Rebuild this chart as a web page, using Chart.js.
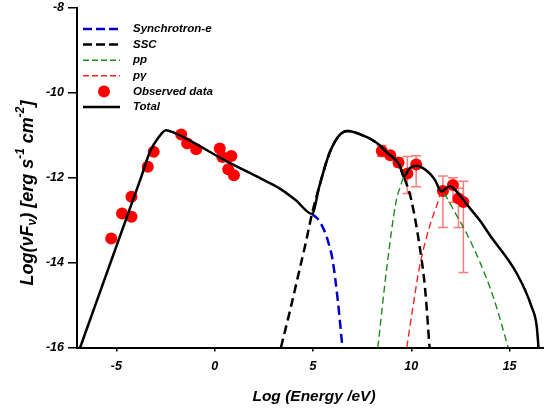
<!DOCTYPE html>
<html>
<head>
<meta charset="utf-8">
<script src="https://cdn.jsdelivr.net/npm/chart.js@4"></script>
<style>body{margin:0;background:#fff}</style>
</head>
<body>
<canvas id="sed" width="544" height="409"></canvas>
<script>
// observed SED points (log E in eV, log nuFnu)
var obsX = [-5.26,-4.71,-4.23,-4.23,-3.40,-3.10,-1.70,-1.40,-0.94,0.26,0.39,0.85,0.69,0.98,8.50,8.93,9.35,9.80,10.25,11.61,12.12,12.40,12.65];
var obsY = [-13.43,-12.84,-12.92,-12.45,-11.74,-11.39,-10.98,-11.19,-11.33,-11.31,-11.51,-11.49,-11.80,-11.94,-11.37,-11.47,-11.64,-11.90,-11.69,-12.31,-12.17,-12.49,-12.57];
var errLo = [null,null,null,null,null,null,null,null,null,null,null,null,null,null,-11.50,null,-11.74,-12.37,-12.21,-13.17,-12.58,-13.17,-14.23];
var errHi = [null,null,null,null,null,null,null,null,null,null,null,null,null,null,-11.24,null,-11.54,-11.50,-11.48,-11.96,-12.00,-12.25,-12.08];

// model curves
var totalX = [-6.84,-4.46,-3.74,-3.29,-2.84,-2.47,-2.16,0.64,2.40,3.30,4.13,4.95,5.32,5.83,6.34,6.77,7.53,7.87,8.38,8.72,9.40,9.62,9.91,10.25,10.85,11.20,11.53,11.95,12.46,12.81,13.49,13.99,15.36,16.12,16.38,16.47];
var totalY = [-16.00,-12.92,-11.99,-11.39,-11.04,-10.88,-10.92,-11.62,-12.03,-12.25,-12.53,-12.85,-12.21,-11.43,-11.00,-10.90,-11.00,-11.07,-11.23,-11.39,-11.70,-11.97,-11.78,-11.72,-11.86,-12.05,-12.32,-12.20,-12.41,-12.62,-13.01,-13.35,-14.25,-15.04,-15.50,-16.00];
var syncX = [4.95,5.30,5.58,5.80,6.00,6.26,6.50];
var syncY = [-12.85,-13.00,-13.25,-13.55,-13.94,-14.88,-16.00];
var sscX = [3.37,3.85,4.30,4.65,4.95,5.32,5.83,6.34,6.77,7.53,7.87,8.38,8.72,9.40,9.62,10.00,10.42,10.70,10.93];
var sscY = [-16.00,-15.10,-14.20,-13.50,-12.85,-12.21,-11.43,-11.00,-10.90,-11.00,-11.07,-11.23,-11.39,-11.70,-11.97,-12.52,-13.60,-14.60,-16.00];
var ppX = [8.30,8.76,9.23,9.45,9.62,9.91,10.25,10.85,11.20,11.53,11.78,12.20,12.80,13.50,14.20,14.93];
var ppY = [-16.00,-14.10,-12.55,-12.20,-11.97,-11.78,-11.72,-11.86,-12.05,-12.32,-12.45,-12.80,-13.30,-14.00,-14.85,-16.00];
var pgX = [9.77,10.10,10.42,10.93,11.30,11.53,11.95,12.46,12.81,13.49,13.99,15.36,16.12,16.38,16.47];
var pgY = [-16.00,-15.00,-14.10,-13.15,-12.65,-12.34,-12.22,-12.41,-12.62,-13.01,-13.35,-14.25,-15.04,-15.50,-16.00];

var xTicks = [-5, 0, 5, 10, 15];
var FONT = 'Liberation Sans, Arial, sans-serif';

function pts(xs, ys){
    return xs.map(function(x, i){ return {x: x, y: ys[i]}; });
}

function curve(label, xs, ys, color, width, dash, order){
    return {
        label: label, data: pts(xs, ys), showLine: true, pointRadius: 0,
        borderColor: color, borderWidth: width, borderDash: dash,
        cubicInterpolationMode: 'monotone', order: order
    };
}

var errorBars = {
    id: 'errorBars',
    beforeDatasetsDraw: function(chart){
        var ctx = chart.ctx, xs = chart.scales.x, ys = chart.scales.y;
        ctx.save();
        ctx.strokeStyle = 'rgba(255,80,80,0.75)';
        ctx.lineWidth = 1.5;
        obsX.forEach(function(x, i){
            if (errLo[i] === null) return;
            var px = xs.getPixelForValue(x);
            var lo = ys.getPixelForValue(errLo[i]);
            var hi = ys.getPixelForValue(errHi[i]);
            ctx.beginPath();
            ctx.moveTo(px, lo); ctx.lineTo(px, hi);
            ctx.moveTo(px - 5, lo); ctx.lineTo(px + 5, lo);
            ctx.moveTo(px - 5, hi); ctx.lineTo(px + 5, hi);
            ctx.stroke();
        });
        ctx.restore();
    }
};

var decorations = {
    id: 'decorations',
    afterDraw: function(chart){
        var ctx = chart.ctx;
        ctx.save();
        // legend
        var rows = [
            {t: 'Synchrotron-e', c: '#0000c8', w: 2.5, d: [9, 4]},
            {t: 'SSC', c: '#000', w: 2.5, d: [9, 4]},
            {t: 'pp', c: '#1a8c1a', w: 1.4, d: [6, 3]},
            {t: 'p\u03b3', c: '#ff2020', w: 1.4, d: [6, 3]},
            {t: 'Observed data', dot: true},
            {t: 'Total', c: '#000', w: 2.5, d: []}
        ];
        ctx.font = 'italic bold 11.5px ' + FONT;
        ctx.textBaseline = 'middle';
        rows.forEach(function(r, i){
            var y = 29 + i * 15.6;
            if (r.dot){
                ctx.fillStyle = 'red';
                ctx.beginPath(); ctx.arc(104, y, 6, 0, Math.PI * 2); ctx.fill();
            } else {
                ctx.strokeStyle = r.c; ctx.lineWidth = r.w; ctx.setLineDash(r.d);
                ctx.beginPath(); ctx.moveTo(83, y); ctx.lineTo(120, y); ctx.stroke();
                ctx.setLineDash([]);
            }
            ctx.fillStyle = '#000';
            ctx.fillText(r.t, 133, y);
        });
        // x title
        ctx.font = 'italic bold 15.5px ' + FONT;
        ctx.textAlign = 'center';
        ctx.fillText('Log (Energy /eV)', 314, 397);
        // y title with sub/superscripts
        var parts = [
            {t: 'Log(', s: 0}, {t: '\u03bd', s: 0}, {t: 'F', s: 0}, {t: '\u03bd', s: 1},
            {t: ') [erg s', s: 0}, {t: '-1', s: -1}, {t: ' cm', s: 0}, {t: '-2', s: -1}, {t: ']', s: 0}
        ];
        function setFont(p){ ctx.font = 'italic bold ' + (p.s ? 12 : 18) + 'px ' + FONT; }
        var total = 0;
        parts.forEach(function(p){ setFont(p); total += ctx.measureText(p.t).width; });
        ctx.translate(28, 193);
        ctx.rotate(-Math.PI / 2);
        ctx.textAlign = 'left';
        var x = -total / 2;
        parts.forEach(function(p){
            setFont(p);
            ctx.fillText(p.t, x, p.s === 1 ? 5 : (p.s === -1 ? -7 : 0));
            x += ctx.measureText(p.t).width;
        });
        ctx.restore();
    }
};

new Chart(document.getElementById('sed'), {
    type: 'scatter',
    data: {
        datasets: [
            {label: 'Observed data', data: pts(obsX, obsY), pointRadius: 6, pointHoverRadius: 6,
             backgroundColor: 'red', borderWidth: 0, order: 3},
            curve('Synchrotron-e', syncX, syncY, '#0000c8', 2.5, [9, 5], 2),
            curve('SSC', sscX, sscY, '#000', 2.5, [9, 5], 2),
            curve('pp', ppX, ppY, '#1a8c1a', 1.4, [7, 4], 1),
            curve('p\u03b3', pgX, pgY, '#ff2020', 1.4, [7, 4], 1),
            curve('Total', totalX, totalY, '#000', 2.5, [], 0)
        ]
    },
    options: {
        responsive: false,
        devicePixelRatio: 1,
        animation: false,
        layout: {autoPadding: false, padding: {top: 8, right: 0, left: 0, bottom: 0}},
        plugins: {legend: {display: false}, tooltip: {enabled: false}},
        scales: {
            x: {
                type: 'linear', min: -7, max: 16.75,
                afterBuildTicks: function(scale){
                    scale.ticks = xTicks.map(function(v){ return {value: v}; });
                },
                afterFit: function(scale){
                    scale.height = 61.5;
                    scale.paddingLeft = 0; scale.paddingRight = 0;
                },
                grid: {drawOnChartArea: false, drawTicks: true, tickLength: 4, color: '#000', lineWidth: 1.5},
                border: {display: true, color: '#000', width: 2},
                ticks: {color: '#000', padding: 8, maxRotation: 0, font: {family: FONT, size: 12.5, style: 'italic', weight: 'bold'}}
            },
            y: {
                min: -16, max: -8,
                ticks: {stepSize: 2, color: '#000', padding: 4, font: {family: FONT, size: 12.5, style: 'italic', weight: 'bold'}},
                afterFit: function(scale){
                    scale.width = 77;
                    scale.paddingTop = 0; scale.paddingBottom = 0;
                },
                grid: {drawOnChartArea: false, drawTicks: true, tickLength: 9, color: '#000', lineWidth: 1.5},
                border: {display: true, color: '#000', width: 2}
            }
        }
    },
    plugins: [errorBars, decorations]
});
</script>
</body>
</html>
